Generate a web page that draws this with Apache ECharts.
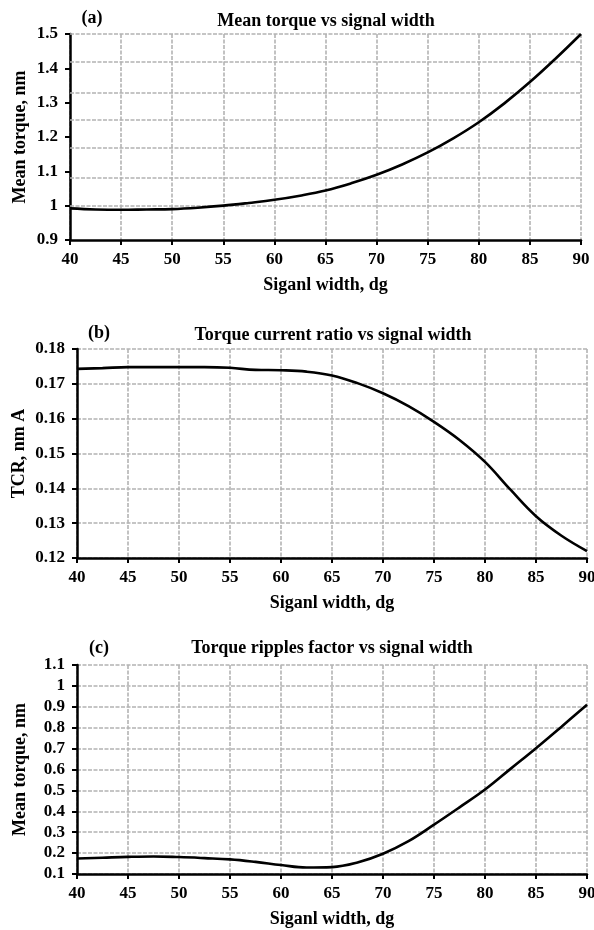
<!DOCTYPE html>
<html>
<head>
<meta charset="utf-8">
<script src="https://cdn.jsdelivr.net/npm/echarts@6/dist/echarts.min.js"></script>
<style>html,body{margin:0;padding:0;background:#fff}#c{width:594px;height:930px}</style>
</head>
<body>
<div id="c"></div>
<script>
// ---- data ----
const signalWidth = [40, 42.5, 45, 47.5, 50, 52.5, 55, 57.5, 60, 62.5, 65, 67.5, 70, 72.5, 75, 77.5, 80, 82.5, 85, 87.5, 90];
const meanTorque = [0.992, 0.989, 0.988, 0.989, 0.990, 0.994, 1.000, 1.008, 1.017, 1.029, 1.044, 1.065, 1.090, 1.120, 1.155, 1.196, 1.243, 1.298, 1.360, 1.428, 1.500];
const tcr = [0.1743, 0.1745, 0.1748, 0.1748, 0.1748, 0.1748, 0.1746, 0.1740, 0.1739, 0.1735, 0.1724, 0.1702, 0.1673, 0.1636, 0.1591, 0.1539, 0.1476, 0.1396, 0.1320, 0.1264, 0.1220];
const rippleFactor = [0.174, 0.178, 0.182, 0.184, 0.181, 0.176, 0.170, 0.158, 0.143, 0.131, 0.133, 0.155, 0.197, 0.257, 0.336, 0.419, 0.504, 0.603, 0.702, 0.805, 0.910];
const gridLinesA = [1.0, 1.0833, 1.1667, 1.25, 1.3333, 1.4167, 1.5];
const titles = ['Mean torque vs signal width', 'Torque current ratio vs signal width', 'Torque ripples factor vs signal width'];
const panelTags = ['(a)', '(b)', '(c)'];
const xName = 'Siganl width, dg';
const yNames = ['Mean torque, nm', 'TCR, nm A', 'Mean torque, nm'];

// ---- chart ----
const FF = '"Liberation Serif", "Times New Roman", serif';
const gridStyle = {color: '#b3b3b3', width: 1.6, type: [4, 1.5]};
const zip = (xs, ys) => xs.map((x, i) => [x, ys[i]]);

function xAxis(gi) {
  return {
    type: 'value', gridIndex: gi, min: 40, max: 90, interval: 5,
    name: xName, nameLocation: 'middle', nameGap: 36, nameMoveOverlap: false,
    nameTextStyle: {fontFamily: FF, fontSize: 18, fontWeight: 'bold', color: '#000'},
    axisLine: {lineStyle: {color: '#000', width: 2.5}},
    axisTick: {show: true, length: 5, lineStyle: {color: '#000', width: 2}},
    axisLabel: {fontFamily: FF, fontSize: 17, fontWeight: 'bold', color: '#000', margin: 11},
    splitLine: {show: true, lineStyle: gridStyle}
  };
}
function yAxis(gi, min, max, interval, name, gap, showSplit) {
  return {
    type: 'value', gridIndex: gi, min: min, max: max, interval: interval,
    name: name, nameLocation: 'middle', nameGap: gap, nameMoveOverlap: false,
    nameTextStyle: {fontFamily: FF, fontSize: 18, fontWeight: 'bold', color: '#000'},
    axisLine: {show: true, lineStyle: {color: '#000', width: 2.5}},
    axisTick: {show: true, length: 5, lineStyle: {color: '#000', width: 2}},
    axisLabel: {fontFamily: FF, fontSize: 17, fontWeight: 'bold', color: '#000', margin: 12},
    splitLine: {show: showSplit, lineStyle: gridStyle}
  };
}
function titleAt(text, x, y) {
  return {text: text, left: x, top: y, padding: 0, textAlign: 'center', textVerticalAlign: 'middle',
    textStyle: {fontFamily: FF, fontSize: 18, fontWeight: 'bold', color: '#000'}};
}
const lineSeries = (xi, ys) => ({
  type: 'line', xAxisIndex: xi, yAxisIndex: xi, data: zip(signalWidth, ys),
  smooth: 0.4, showSymbol: false, symbol: 'none', z: 5,
  lineStyle: {color: '#000', width: 2.6}
});

const chart = echarts.init(document.getElementById('c'), null, {renderer: 'canvas'});
chart.setOption({
  animation: false,
  backgroundColor: '#fff',
  title: [
    titleAt(titles[0], 326, 21), titleAt(panelTags[0], 92, 18),
    titleAt(titles[1], 333, 335), titleAt(panelTags[1], 99, 333),
    titleAt(titles[2], 332, 648), titleAt(panelTags[2], 99, 648)
  ],
  grid: [
    {left: 70, top: 34, width: 511, height: 206, outerBoundsMode: 'none', containLabel: false},
    {left: 77, top: 349, width: 510, height: 209, outerBoundsMode: 'none', containLabel: false},
    {left: 77, top: 665, width: 510, height: 209, outerBoundsMode: 'none', containLabel: false}
  ],
  xAxis: [xAxis(0), xAxis(1), xAxis(2)],
  yAxis: [
    yAxis(0, 0.9, 1.5, 0.1, yNames[0], 41, false),
    yAxis(1, 0.12, 0.18, 0.01, yNames[1], 49, true),
    yAxis(2, 0.1, 1.1, 0.1, yNames[2], 48, true)
  ],
  series: [
    {
      type: 'line', xAxisIndex: 0, yAxisIndex: 0, data: [], z: 1, silent: true,
      markLine: {
        silent: true, symbol: ['none', 'none'], animation: false,
        label: {show: false},
        lineStyle: gridStyle,
        data: gridLinesA.map(v => ({yAxis: v}))
      }
    },
    lineSeries(0, meanTorque),
    lineSeries(1, tcr),
    lineSeries(2, rippleFactor)
  ]
});
</script>
</body>
</html>
